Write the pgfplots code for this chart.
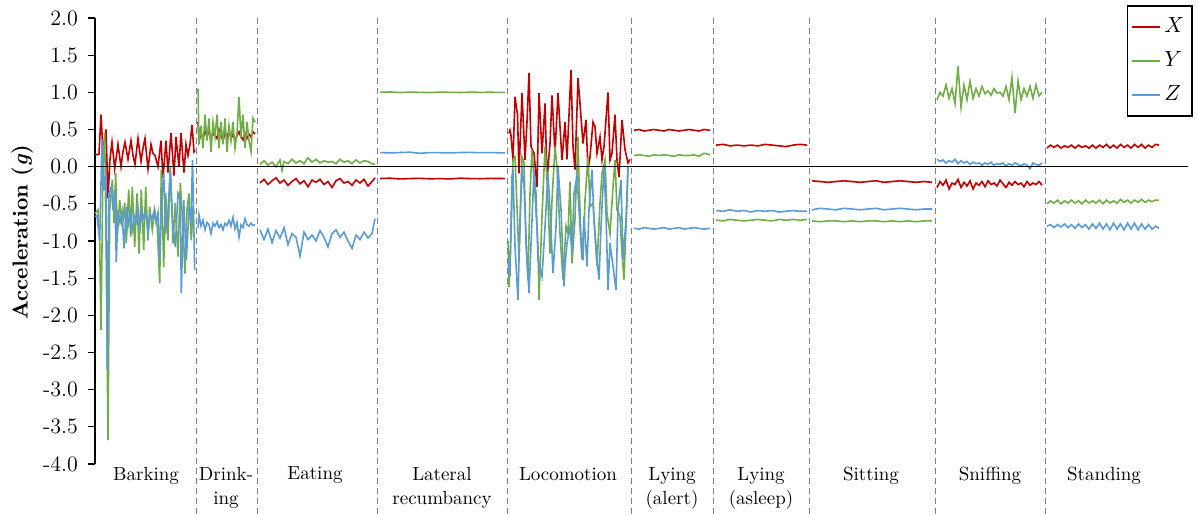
\documentclass[border=0pt]{standalone}
\usepackage{pgfplots}
\pgfplotsset{compat=1.18}
\definecolor{cX}{RGB}{192,0,0}
\definecolor{cY}{RGB}{112,173,71}
\definecolor{cZ}{RGB}{91,155,213}
\newcommand\ff{\fontsize{9.5}{12}\selectfont}
\newcommand\fy{\fontsize{11}{13}\selectfont}
\begin{document}
\begin{tikzpicture}
\path[use as bounding box] (-47.5pt,-25.5pt) rectangle (551.5pt,232pt);
\begin{axis}[
  scale only axis, width=546.5pt, height=223pt,
  at={(0pt,0pt)}, anchor=south west,
  xmin=0, xmax=1093, ymin=-4, ymax=2,
  clip=false,
  separate axis lines,
  axis x line*=bottom, axis y line*=left,
  x axis line style={draw=none},
  y axis line style={-, black, line width=0.7pt},
  tick align=outside, major tick length=3.5pt,
  xtick style={draw=none},
  ytick style={black, line width=0.6pt},
  ytick={-4,-3.5,...,2},
  yticklabel style={font=\fy, xshift=-1.5pt, /pgf/number format/fixed, /pgf/number format/fixed zerofill, /pgf/number format/precision=1, /pgf/number format/assume math mode=true},
  xtick={51,131,220,347,473,577,666,776,895,1009},
  xticklabels={Barking,{Drink-\\ing},Eating,{Lateral\\recumbancy},Locomotion,{Lying\\(alert)},{Lying\\(asleep)},Sitting,Sniffing,Standing},
  xticklabel style={font=\ff, align=center, anchor=north, yshift=5.5pt},
  ylabel={\textbf{Acceleration (\textit{g})}},
  ylabel style={font=\fontsize{10.8}{13}\selectfont, at={(axis description cs:-0.0665,0.52)}, anchor=center},
  unbounded coords=jump,
  every axis plot/.append style={line width=0.8pt},
  legend style={at={(1.0046,1.029)}, anchor=north east, draw=black, line width=0.8pt, font=\fy, row sep=4pt, inner xsep=2pt, inner ysep=4pt, cells={anchor=west}},
  legend image code/.code={\draw[line width=0.8pt,#1] (0cm,0cm) -- (0.48cm,0cm);},
]
% X
\addplot[color=cX] coordinates {
(0,0.17)(2,0.16)(4,0.17)(6,0.70)(8,0.20)(11,0.50)(13,-0.42)(15,0.10)(17,0.33)(19.7,-0.03)(23,0.30)(26,0.0)(28,0.2)(30,0.33)(33,0.10)(36,0.35)(38,0.15)(40,0.03)(43,0.38)(46,0.07)(48,0.25)(50,0.38)(53,-0.03)(56,0.30)(58,0.18)(60,0.15)(63,0.0)(66,0.35)(68,-0.15)(71,0.35)(73,-0.08)(76,0.45)(79,-0.12)(81,0.40)(84,0.0)(86,0.45)(89,-0.08)(91,0.30)(93,0.15)(95,0.30)(97,0.56)(99,0.20)(100,0.22)
(101,nan)
(103,0.60)(104,0.35)(106,0.45)(108,0.38)(110,0.48)(112,0.40)(114,0.50)(116,0.36)(118,0.45)(120,0.42)(122,0.38)(124,0.50)(126,0.42)(128,0.35)(130,0.46)(132,0.40)(134,0.48)(136,0.38)(138,0.44)(140,0.35)(142,0.42)(144,0.47)(146,0.40)(148,0.36)(150,0.45)(152,0.38)(154,0.44)(156,0.40)(158,0.47)(160,0.44)
(162,nan)
(165,-0.22)(169,-0.17)(173,-0.24)(177,-0.19)(181,-0.15)(185,-0.22)(189,-0.18)(193,-0.25)(197,-0.20)(201,-0.16)(205,-0.23)(209,-0.19)(213,-0.27)(217,-0.18)(221,-0.21)(225,-0.17)(229,-0.24)(233,-0.20)(237,-0.28)(241,-0.19)(245,-0.16)(249,-0.22)(253,-0.20)(257,-0.25)(261,-0.18)(265,-0.22)(269,-0.17)(273,-0.26)(277,-0.20)(280,-0.15)
(282,nan)
(285,-0.16)(295,-0.155)(305,-0.165)(315,-0.16)(325,-0.157)(335,-0.163)(345,-0.16)(355,-0.165)(365,-0.155)(375,-0.16)(385,-0.162)(395,-0.158)(410,-0.16)
(412,nan)
(414,0.45)(415,0.49)(416,0.42)(418,0.09)(420,0.94)(422.5,0.70)(424,-0.09)(427,0.99)(430,0.09)(432,0.60)(434,1.26)(436,0.27)(439,0.18)(442,-0.27)(444,0.99)(447,0.18)(450,0.85)(452,-0.18)(455,0.31)(457,0.96)(460,0.18)(463,0.99)(467,0.09)(470,0.60)(472,0.10)(476,1.30)(478,0.27)(480,-0.04)(483,1.19)(485,0.85)(488,0.31)(491,0.63)(493,-0.04)(495,0.13)(498,0.60)(500,0.54)(502,0.18)(505,0.40)(507,0.09)(509,0.27)(513,1.00)(515,0.09)(517,0.18)(520,0.70)(522,0.09)(524,-0.14)(527,0.63)(530,0.23)(533,0.05)(535,0.10)
(536,nan)
(539,0.49)(544,0.50)(549,0.48)(554,0.49)(559,0.50)(564,0.49)(569,0.48)(574,0.50)(579,0.49)(584,0.48)(589,0.49)(594,0.50)(599,0.49)(604,0.48)(609,0.50)(615,0.49)
(618,nan)
(621,0.29)(628,0.30)(635,0.28)(642,0.29)(649,0.28)(656,0.29)(663,0.28)(670,0.30)(677,0.29)(684,0.28)(691,0.27)(698,0.29)(705,0.30)(712,0.29)
(714,nan)
(717,-0.19)(725,-0.20)(733,-0.21)(741,-0.20)(749,-0.19)(757,-0.20)(765,-0.21)(773,-0.20)(781,-0.19)(789,-0.21)(797,-0.20)(805,-0.19)(813,-0.20)(821,-0.21)(829,-0.20)(837,-0.21)
(840,nan)
(842,-0.28)(845,-0.20)(848,-0.25)(851,-0.18)(854,-0.30)(857,-0.22)(860,-0.24)(863,-0.17)(866,-0.28)(869,-0.21)(872,-0.26)(875,-0.19)(878,-0.30)(881,-0.22)(884,-0.25)(887,-0.20)(890,-0.27)(893,-0.19)(896,-0.24)(899,-0.22)(902,-0.26)(905,-0.18)(908,-0.23)(911,-0.28)(914,-0.21)(917,-0.25)(920,-0.20)(923,-0.24)(926,-0.22)(929,-0.27)(932,-0.20)(935,-0.25)(938,-0.22)(941,-0.24)(944,-0.20)(947,-0.25)
(950,nan)
(952,0.25)(955.5,0.29)(959,0.26)(962.5,0.29)(966,0.25)(969.5,0.28)(973,0.26)(976.5,0.29)(980,0.25)(983.5,0.29)(987,0.26)(990.5,0.28)(994,0.25)(997.5,0.29)(1001,0.25)(1004.5,0.29)(1008,0.26)(1011.5,0.30)(1015,0.25)(1018.5,0.29)(1022,0.25)(1025.5,0.30)(1029,0.26)(1032.5,0.29)(1036,0.25)(1039.5,0.30)(1043,0.26)(1046.5,0.30)(1050,0.25)(1053.5,0.29)(1057,0.26)(1060.5,0.30)(1064,0.29)
};
% Y
\addplot[color=cY] coordinates {
(0,-0.63)(3,-0.58)(4.7,-1.03)(6,-2.20)(8,0.0)(9.7,0.45)(11.3,-1.26)(13,-3.68)(14.7,-0.58)(17.3,-0.18)(19,-0.76)(20.7,-0.09)(22.3,-0.94)(24.7,-0.45)(27.3,-0.81)(29.7,-0.49)(31.3,-1.03)(33.7,-0.31)(35.7,-0.94)(37.3,-0.27)(39.7,-1.08)(42,-0.36)(44,-1.17)(46.3,-0.31)(48.7,-1.12)(50.7,-0.27)(53,-0.99)(54.7,-0.54)(57.3,-0.85)(59.7,-0.58)(62.3,-0.81)(64.7,-1.57)(66.3,-0.04)(68.7,-1.35)(70.7,-0.36)(73,-0.99)(75.3,0.0)(78,-1.03)(80.3,-0.49)(83,-1.21)(85.3,-0.22)(88,-0.81)(90,-1.44)(92,-0.58)(94,-0.36)(96.3,-0.99)(98,-0.58)(99.7,-0.63)
(101,nan)
(103,1.05)(104,0.30)(106,0.55)(108,0.25)(110,0.70)(112,0.35)(114,0.65)(116,0.20)(118,0.60)(120,0.40)(122,0.70)(124,0.25)(126,0.60)(128,0.30)(130,0.65)(132,0.20)(134,0.55)(136,0.35)(138,0.60)(140,0.25)(142,0.45)(144,0.94)(146,0.40)(148,0.70)(150,0.25)(152,0.60)(154,0.35)(156,0.20)(158,0.65)(160,0.60)
(162,nan)
(165,0.03)(169,0.08)(173,0.02)(177,0.06)(181,0.00)(185,0.09)(187,-0.05)(189,0.07)(193,0.04)(197,0.10)(201,0.05)(205,0.08)(209,0.04)(213,0.12)(217,0.06)(221,0.10)(225,0.05)(229,0.08)(233,0.06)(237,0.07)(241,0.04)(245,0.10)(249,0.06)(253,0.08)(257,0.04)(261,0.09)(265,0.05)(269,0.08)(273,0.07)(277,0.04)(280,0.03)
(282,nan)
(285,1.0)(295,1.005)(305,0.998)(315,1.002)(325,1.0)(335,0.997)(345,1.003)(355,1.0)(365,0.998)(375,1.002)(385,1.0)(395,1.001)(410,0.999)
(412,nan)
(413,-1.00)(414,-1.62)(416,-0.90)(418,0.09)(420,0.13)(422,-0.54)(424,-1.25)(427,0.13)(429,0.05)(431,-1.03)(433,-1.52)(435,-0.36)(437,0.22)(440,-0.36)(443,-1.08)(444,-1.79)(447,-0.67)(450,0.27)(452,-0.13)(455,-1.17)(457,-0.45)(460,0.27)(462,0.0)(465,-0.90)(468,-1.52)(471,-0.80)(473,-0.90)(475,-0.20)(477,-1.30)(480,-0.70)(483,0.40)(484,-0.18)(486,-1.00)(488,-1.26)(490,-0.45)(493,0.13)(495,-0.54)(498,-0.49)(502,-1.34)(505,-0.49)(507,-0.09)(510,0.09)(512,-0.63)(515,-0.90)(518,-0.27)(520,0.09)(522,-0.58)(525,-0.67)(527,-1.17)(529,-1.52)(532,-0.45)(533,0.0)
(536,nan)
(539,0.15)(544,0.16)(549,0.15)(554,0.14)(559,0.16)(564,0.15)(569,0.16)(574,0.15)(579,0.14)(584,0.16)(589,0.15)(594,0.15)(599,0.16)(604,0.14)(609,0.18)(615,0.16)
(618,nan)
(621,-0.72)(628,-0.73)(635,-0.71)(642,-0.72)(649,-0.73)(656,-0.72)(663,-0.71)(670,-0.72)(677,-0.73)(684,-0.71)(691,-0.72)(698,-0.71)(705,-0.72)(712,-0.71)
(714,nan)
(717,-0.73)(725,-0.74)(733,-0.73)(741,-0.73)(749,-0.74)(757,-0.73)(765,-0.74)(773,-0.73)(781,-0.73)(789,-0.74)(797,-0.73)(805,-0.74)(813,-0.73)(821,-0.74)(829,-0.73)(837,-0.73)
(840,nan)
(842,0.90)(845,1.00)(848,0.95)(851,1.10)(854,0.92)(857,1.05)(860,0.85)(863,1.35)(866,0.80)(869,1.10)(872,0.90)(875,1.15)(878,0.92)(881,1.05)(884,0.95)(887,1.08)(890,0.98)(893,1.02)(896,0.96)(899,1.05)(902,0.99)(905,1.00)(908,0.95)(911,1.08)(914,0.90)(917,1.20)(920,0.72)(923,1.15)(926,0.90)(929,1.05)(932,0.95)(935,1.08)(938,0.92)(941,1.10)(944,0.95)(947,1.00)
(950,nan)
(952,-0.50)(955.5,-0.46)(959,-0.49)(962.5,-0.45)(966,-0.50)(969.5,-0.46)(973,-0.49)(976.5,-0.45)(980,-0.49)(983.5,-0.46)(987,-0.50)(990.5,-0.45)(994,-0.49)(997.5,-0.46)(1001,-0.49)(1004.5,-0.45)(1008,-0.50)(1011.5,-0.45)(1015,-0.49)(1018.5,-0.46)(1022,-0.49)(1025.5,-0.44)(1029,-0.48)(1032.5,-0.45)(1036,-0.49)(1039.5,-0.45)(1043,-0.48)(1046.5,-0.44)(1050,-0.48)(1053.5,-0.45)(1057,-0.47)(1060.5,-0.45)(1064,-0.45)
};
% Z
\addplot[color=cZ] coordinates {
(0,-0.67)(2,-0.66)(4.7,-0.99)(7,0.36)(9,-0.31)(11,-0.09)(12.3,-2.74)(14,-0.36)(16.3,-0.27)(18,-0.58)(19.7,-0.31)(21.3,-1.28)(23,-0.58)(25,-0.75)(27,-0.60)(29,-1.10)(31.3,-0.54)(33,-0.80)(35,-0.60)(37,-0.90)(39,-0.65)(41,-0.75)(43,-0.55)(45,-0.85)(47,-0.60)(49,-0.70)(51,-0.62)(53,-0.90)(55,-0.65)(57,-0.70)(59,-0.60)(61,-0.75)(63,-0.62)(64.7,-1.26)(66.3,-0.58)(68.7,-0.09)(70.7,-0.90)(73,-0.60)(75.3,-0.04)(78,-0.81)(80.3,-1.08)(83,-0.36)(85.3,-0.45)(86.3,-1.70)(88.7,-0.45)(91.3,-1.26)(94,-0.58)(96,-0.70)(97.5,0.09)(99.7,-1.39)
(101,nan)
(103,-0.82)(104,-0.65)(106,-0.80)(108,-0.72)(110,-0.85)(112,-0.75)(114,-0.78)(116,-0.90)(118,-0.76)(120,-0.80)(122,-0.74)(124,-0.82)(126,-0.78)(128,-0.85)(130,-0.76)(132,-0.79)(134,-0.72)(136,-0.80)(138,-0.68)(140,-0.84)(142,-0.75)(144,-0.95)(146,-0.78)(148,-0.82)(150,-0.70)(152,-0.78)(154,-0.80)(156,-0.76)(158,-0.79)(160,-0.78)
(162,nan)
(165,-0.85)(169,-0.98)(173,-0.84)(177,-1.02)(181,-0.86)(185,-0.96)(189,-0.82)(193,-1.05)(197,-0.90)(201,-0.95)(205,-1.20)(209,-0.88)(213,-0.98)(217,-0.92)(221,-1.00)(225,-0.86)(229,-0.95)(233,-1.08)(237,-0.90)(241,-0.85)(245,-0.95)(249,-0.88)(253,-1.00)(257,-1.10)(261,-0.92)(265,-0.98)(269,-0.88)(273,-0.96)(277,-0.90)(280,-0.70)
(282,nan)
(285,0.19)(295,0.185)(305,0.19)(315,0.195)(325,0.18)(335,0.19)(345,0.188)(355,0.185)(365,0.19)(375,0.192)(385,0.188)(395,0.19)(410,0.185)
(412,nan)
(413,-1.25)(415,-1.48)(417,-0.13)(418,-0.04)(420,-1.07)(423,-1.79)(425,-0.72)(427,0.0)(429,-0.27)(432,-1.25)(434,-1.70)(437,-0.72)(439,-0.04)(441,-0.36)(443,-1.25)(447,-1.48)(450,-0.81)(453,-0.09)(455,-0.58)(458,-1.43)(461,-0.81)(463,0.0)(466,-0.58)(469,-1.61)(470,-1.34)(472,-1.03)(475,-0.81)(477,-1.16)(479,-0.36)(482,-0.13)(484,-0.58)(487,-1.25)(489,-0.67)(492,-1.34)(494,-0.58)(497,-0.04)(499,-0.72)(502,-1.25)(504,-1.52)(506,-0.81)(509,0.0)(511,-0.63)(513,-1.66)(515,-1.03)(518,-1.34)(521,-1.66)(523,-0.58)(526,-0.18)(528,-1.25)(531,-0.72)(533,0.0)
(536,nan)
(539,-0.83)(544,-0.84)(549,-0.82)(554,-0.83)(559,-0.84)(564,-0.83)(569,-0.82)(574,-0.84)(579,-0.83)(584,-0.82)(589,-0.84)(594,-0.83)(599,-0.82)(604,-0.83)(609,-0.84)(615,-0.83)
(618,nan)
(621,-0.59)(628,-0.60)(635,-0.58)(642,-0.60)(649,-0.59)(656,-0.61)(663,-0.59)(670,-0.60)(677,-0.59)(684,-0.61)(691,-0.60)(698,-0.59)(705,-0.60)(712,-0.60)
(714,nan)
(717,-0.58)(725,-0.56)(733,-0.57)(741,-0.58)(749,-0.56)(757,-0.57)(765,-0.58)(773,-0.57)(781,-0.56)(789,-0.58)(797,-0.57)(805,-0.56)(813,-0.57)(821,-0.58)(829,-0.57)(837,-0.57)
(840,nan)
(842,0.10)(845,0.07)(848,0.09)(851,0.05)(854,0.08)(857,0.06)(860,0.10)(863,0.04)(866,0.08)(869,0.05)(872,0.07)(875,0.03)(878,0.06)(881,0.04)(884,0.05)(887,0.02)(890,0.05)(893,0.03)(896,0.06)(899,0.02)(902,0.04)(905,0.03)(908,0.05)(911,0.01)(914,0.04)(917,0.02)(920,0.05)(923,0.03)(926,0.01)(929,0.04)(932,0.02)(935,-0.03)(938,0.05)(941,0.03)(944,0.02)(947,0.05)
(950,nan)
(952,-0.80)(955.5,-0.78)(959,-0.82)(962.5,-0.78)(966,-0.81)(969.5,-0.77)(973,-0.82)(976.5,-0.78)(980,-0.83)(983.5,-0.77)(987,-0.82)(990.5,-0.78)(994,-0.84)(997.5,-0.77)(1001,-0.83)(1004.5,-0.76)(1008,-0.84)(1011.5,-0.77)(1015,-0.85)(1018.5,-0.76)(1022,-0.84)(1025.5,-0.77)(1029,-0.85)(1032.5,-0.76)(1036,-0.84)(1039.5,-0.76)(1043,-0.85)(1046.5,-0.77)(1050,-0.84)(1053.5,-0.78)(1057,-0.84)(1060.5,-0.80)(1064,-0.83)
};
\addplot[black, line width=0.8pt, forget plot] coordinates {(0,0) (1093,0)};
\legend{$X$,$Y$,$Z$}
\pgfplotsinvokeforeach{101,162,282,412,536,618,714,840,950}{
  \draw[gray, densely dashed, line width=0.5pt] (axis cs:#1,2) -- (axis cs:#1,-4.69);
}
\end{axis}
\end{tikzpicture}
\end{document}
